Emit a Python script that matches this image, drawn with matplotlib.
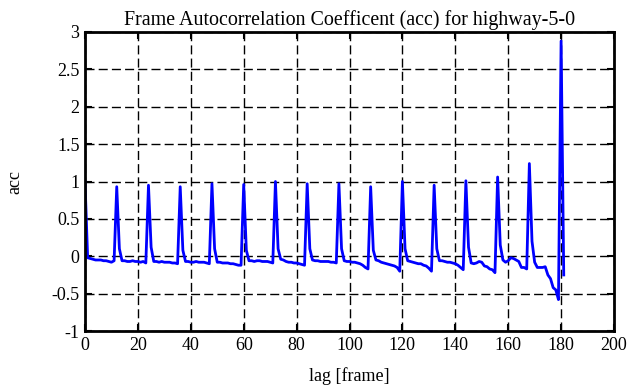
import matplotlib
matplotlib.use('Agg')
import matplotlib.pyplot as plt
import numpy as np

# autocorrelation per lag
lags = np.arange(0, 182)
acc = [
    1.00, -0.02, -0.03, -0.04, -0.05, -0.05, -0.05, -0.06, -0.06, -0.07,
    -0.08, -0.06, 0.93, 0.10, -0.06, -0.06, -0.07, -0.07, -0.06, -0.07,
    -0.07, -0.08, -0.07, -0.09, 0.95, 0.12, -0.07, -0.07, -0.08, -0.07,
    -0.08, -0.08, -0.08, -0.09, -0.09, -0.10, 0.93, 0.08, -0.07, -0.07,
    -0.08, -0.08, -0.07, -0.08, -0.08, -0.08, -0.09, -0.10, 0.97, 0.10,
    -0.08, -0.08, -0.09, -0.09, -0.09, -0.10, -0.10, -0.11, -0.12, -0.12,
    0.96, 0.08, -0.06, -0.06, -0.07, -0.06, -0.06, -0.07, -0.07, -0.07,
    -0.08, -0.09, 1.00, 0.10, -0.04, -0.05, -0.07, -0.08, -0.08, -0.09,
    -0.09, -0.10, -0.11, -0.12, 0.97, 0.10, -0.05, -0.06, -0.06, -0.07,
    -0.07, -0.07, -0.07, -0.08, -0.08, -0.09, 0.97, 0.10, -0.06, -0.07,
    -0.07, -0.08, -0.08, -0.09, -0.10, -0.12, -0.15, -0.17, 0.93, 0.08,
    -0.05, -0.06, -0.08, -0.09, -0.10, -0.11, -0.12, -0.13, -0.15, -0.20,
    1.00, 0.10, -0.06, -0.07, -0.08, -0.09, -0.10, -0.10, -0.12, -0.13,
    -0.16, -0.20, 0.95, 0.10, -0.06, -0.06, -0.07, -0.08, -0.08, -0.09,
    -0.10, -0.12, -0.15, -0.18, 1.01, 0.12, -0.09, -0.10, -0.09, -0.07,
    -0.08, -0.13, -0.14, -0.17, -0.18, -0.22, 1.06, 0.15, -0.05, -0.08,
    -0.06, -0.02, -0.03, -0.05, -0.07, -0.15, -0.15, -0.17, 1.24, 0.20,
    -0.08, -0.15, -0.15, -0.15, -0.14, -0.25, -0.30, -0.42, -0.45, -0.58,
    2.88, -0.25,
]
xticks = np.arange(0, 201, 20)
yticks = [-1, -0.5, 0, 0.5, 1, 1.5, 2, 2.5, 3]
yticklabels = ['-1', '-0.5', '0', '0.5', '1', '1.5', '2', '2.5', '3']

plt.rcParams['font.family'] = ['Liberation Serif', 'DejaVu Serif']
plt.rcParams['font.size'] = 13

fig = plt.figure(figsize=(6.3, 3.87), dpi=100)
ax = fig.add_axes([85/630, 1 - 331/387, (614-85)/630, (331-32)/387])
ax.plot(lags, acc, color='#0000ff', lw=2.0)

ax.set_xlim(0, 200)
ax.set_ylim(-1, 3)
ax.set_xticks(xticks)
ax.set_yticks(yticks)
ax.set_yticklabels(yticklabels)
ax.grid(True, color='black', linestyle=(0, (6.5, 3)), lw=1.0)
ax.tick_params(direction='in', length=5, width=1.5, top=True, right=True, pad=4)
for s in ax.spines.values():
    s.set_linewidth(2.0)

ax.set_title('Frame Autocorrelation Coefficent (acc) for highway-5-0', fontsize=14.4, pad=5)
ax.set_xlabel('lag [frame]', labelpad=10)
ax.set_ylabel('acc', labelpad=20)

fig.savefig('out.png', dpi=100)
